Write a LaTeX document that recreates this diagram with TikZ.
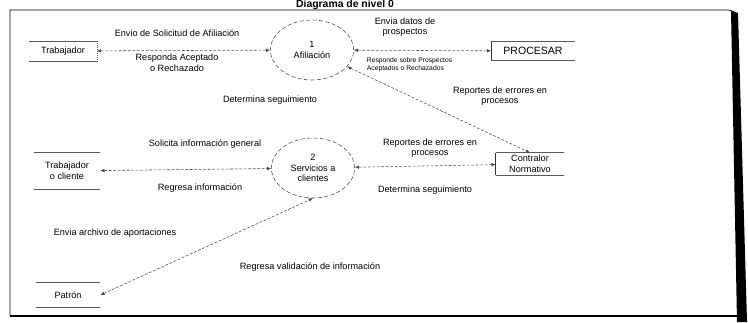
\documentclass[tikz,border=0pt]{standalone}
\usepackage{fontspec}
\setmainfont{Liberation Sans}
\usetikzlibrary{arrows.meta, positioning, shapes.geometric}

\begin{document}
\begin{tikzpicture}[
		x=0.025cm,
		y=-0.025cm,
		font=\fontsize{6.5}{7.6}\selectfont,
		flow/.style={dash pattern=on 2pt off 1.2pt, black!70, {Latex[length=3pt,width=2.6pt]}-{Latex[length=3pt,width=2.6pt]}},
		proc/.style={ellipse, draw, dash pattern=on 3pt off 1.6pt, black!70, text=black, minimum width=2.08cm, minimum height=1.5cm, align=center, inner sep=0pt},
		ext/.style={align=center, inner sep=1pt},
		lbl/.style={align=center},
		small/.style={font=\fontsize{4.8}{5.8}\selectfont, align=left}
		]
		\useasboundingbox (0,0) rectangle (748,322);
		
		% Frame
		\draw[line width=0.5pt] (10,316) -- (10,10) -- (728,10) to[out=0,in=150] (736,13);
		\draw[line width=1.3pt] (10,316) -- (740,316);
		\fill (731,11) -- (738,13) -- (747,322) -- (737,322) -- cycle;
		\node[font=\bfseries\fontsize{7.4}{8}\selectfont, anchor=base, inner sep=0pt] (title) at (345,7.6) {Diagrama de nivel 0};
		
		% Processes
		\node[proc] (c1) at (312,50) {1\\Afiliación};
		\node[proc] (c2) at (313,168) {2\\Servicios a\\clientes};
		
		% External entities
		\node[ext, minimum width=1.68cm, minimum height=0.48cm] (trab) at (63,51) {Trabajador};
		\node[ext, minimum width=2.08cm, minimum height=0.45cm, font=\fontsize{7.5}{8}\selectfont] (procesar) at (533,51) {PROCESAR};
		\node[ext, minimum width=1.7cm, minimum height=0.55cm] (contr) at (530,164) {Contralor\\Normativo};
		\node[ext, minimum width=1.65cm, minimum height=0.9cm] (tcli) at (67,171) {Trabajador\\o cliente};
		\node[ext, minimum width=1.6cm, minimum height=0.62cm] (patron) at (68,295) {Patrón};
		\foreach \n in {trab, procesar, contr, tcli, patron}
			\draw[black!65] (\n.north west) -- (\n.north east) (\n.south west) -- (\n.south east);
		\draw[black!65, densely dotted] (trab.north east) -- (trab.south east);
		\draw[black!80] (procesar.north west) -- (procesar.south west);
		\draw[black!80] (contr.north west) -- (contr.south west);
		
		% Flows
		\draw[flow] (trab) -- (c1);
		\draw[flow] (c1) -- (procesar);
		\draw[flow] (c1) -- (contr.north);
		\draw[flow] (tcli) -- (c2);
		\draw[flow] (c2) -- (contr);
		\draw[flow] (patron.east) -- (c2.south);
		
		% Labels
		\node[lbl] (l1) at (177,33) {Envio de Solicitud de Afiliación};
		\node[lbl] (l2) at (177,63) {Responda Aceptado\\o Rechazado};
		\node[lbl] (l3) at (405,27) {Envia datos de\\prospectos};
		\node[small, anchor=west] (l4) at (362,65) {Responde sobre Prospectos\\Aceptados o Rechazados};
		\node[lbl] (l5) at (500,96) {Reportes de errores en\\procesos};
		\node[lbl] (l6) at (270,100) {Determina seguimiento};
		\node[lbl] (l7) at (205,144) {Solicita información general};
		\node[lbl] (l8) at (200,188) {Regresa información};
		\node[lbl] (l9) at (430,148) {Reportes de errores en\\procesos};
		\node[lbl] (l10) at (425,190) {Determina seguimiento};
		\node[lbl] (l11) at (115,233) {Envia archivo de aportaciones};
		\node[lbl] (l12) at (310,267) {Regresa validación de información};
	\end{tikzpicture}
\end{document}
